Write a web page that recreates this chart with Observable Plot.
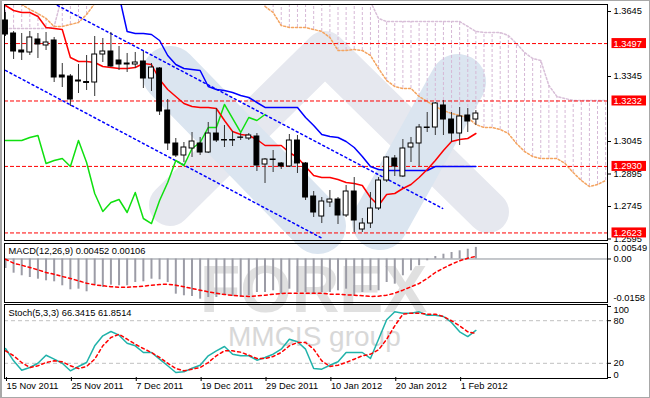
<!DOCTYPE html>
<html>
<head>
<meta charset="utf-8">
<script src="https://cdn.jsdelivr.net/npm/d3@7"></script>
<script src="https://cdn.jsdelivr.net/npm/@observablehq/plot@0.6"></script>
<style>
  html, body { margin: 0; padding: 0; background: #ffffff; }
  #chart { position: relative; width: 650px; height: 398px; overflow: hidden; background: #ffffff; }
  #chart > svg { position: absolute; left: 0; }
  .pane { position: absolute; left: 4px; width: 604px; border: 1px solid #000; box-sizing: border-box; pointer-events: none; }
  .outer { position: absolute; left: 0; top: 0; width: 650px; height: 398px; box-sizing: border-box; border: 1px solid #a8a8a8; border-left-width: 2px; pointer-events: none; }
</style>
</head>
<body>
<div id="chart"></div>
<script>
// ---------------- DATA ----------------
const dateTicks = [0, 8, 16, 24, 32, 40, 48, 56];
const dateLabels = ["15 Nov 2011", "25 Nov 2011", "7 Dec 2011", "19 Dec 2011", "29 Dec 2011", "10 Jan 2012", "20 Jan 2012", "1 Feb 2012"];

const open  = [1.36035,1.35435,1.34650,1.34558,1.35158,1.34881,1.35112,1.33496,1.33450,1.33265,1.33196,1.33173,1.34465,1.34604,1.34188,1.34050,1.34004,1.34142,1.33358,1.33819,1.31881,1.30358,1.29804,1.30127,1.30358,1.29942,1.30819,1.30519,1.30519,1.30635,1.30588,1.30681,1.29388,1.29619,1.29435,1.29296,1.30496,1.29435,1.27912,1.26988,1.27635,1.27773,1.27035,1.28142,1.26388,1.26665,1.27358,1.28650,1.29665,1.28835,1.30173,1.30358,1.31096,1.31096,1.32112,1.31465,1.30819,1.31650,1.31465];
const high  = [1.36404,1.35527,1.35435,1.35527,1.35435,1.35481,1.35250,1.34050,1.33542,1.34004,1.34419,1.35296,1.35204,1.35481,1.34835,1.34512,1.34558,1.34604,1.34050,1.33865,1.32388,1.30588,1.30404,1.30865,1.30635,1.31327,1.31973,1.31188,1.30912,1.30819,1.30819,1.30819,1.29665,1.30035,1.29481,1.30773,1.30727,1.29481,1.28142,1.27865,1.28188,1.27865,1.28419,1.28788,1.26896,1.28096,1.28788,1.29758,1.29804,1.30542,1.30635,1.31235,1.31788,1.32250,1.32342,1.31788,1.32019,1.31973,1.31881];
const low   = [1.35296,1.34235,1.34188,1.34419,1.34281,1.34650,1.33173,1.32942,1.32065,1.32665,1.32804,1.32527,1.34096,1.33865,1.33727,1.33635,1.33819,1.32896,1.32758,1.31650,1.30035,1.29712,1.29481,1.29712,1.29804,1.29896,1.30404,1.30173,1.30219,1.30496,1.30496,1.29065,1.28512,1.29019,1.29158,1.29250,1.28973,1.27727,1.26942,1.26665,1.27404,1.26619,1.26942,1.26250,1.26250,1.26435,1.27265,1.28558,1.28835,1.28788,1.29481,1.29296,1.30865,1.30727,1.30727,1.30404,1.30265,1.30865,1.31188];
const close = [1.35388,1.34604,1.34558,1.35250,1.34927,1.35019,1.33404,1.33404,1.32388,1.33219,1.33150,1.34465,1.34604,1.33912,1.34004,1.34004,1.34096,1.33358,1.33865,1.31835,1.30358,1.29804,1.30173,1.30450,1.29942,1.30819,1.30496,1.30496,1.30496,1.30621,1.30727,1.29342,1.29619,1.29596,1.29296,1.30496,1.29435,1.27865,1.27173,1.27681,1.27773,1.27035,1.28142,1.26804,1.26665,1.27358,1.28650,1.29712,1.29296,1.30127,1.30358,1.31096,1.31073,1.32204,1.31465,1.30819,1.31604,1.31373,1.31742];

const tenkan = [1.36727,1.36496,1.36404,1.36404,1.36220,1.35712,1.35666,1.35620,1.34327,1.34143,1.34143,1.34096,1.33912,1.33866,1.33820,1.33820,1.33866,1.34050,1.34004,1.33312,1.32850,1.32527,1.32204,1.32066,1.32020,1.32020,1.31973,1.31420,1.30912,1.30773,1.30727,1.30543,1.30266,1.30266,1.30266,1.29943,1.29712,1.29297,1.28881,1.28789,1.28789,1.28696,1.28558,1.28512,1.28420,1.27866,1.27496,1.28004,1.28050,1.28281,1.28466,1.28789,1.29158,1.29573,1.30035,1.30450,1.30543,1.30589,1.30819];
const kijun = [null,null,null,null,null,null,null,null,null,null,null,null,null,null,1.37189,1.35527,1.35435,1.35435,1.35389,1.35112,1.34420,1.34004,1.33820,1.33773,1.33727,1.32989,1.32850,1.32804,1.32712,1.32573,1.32481,1.32250,1.32020,1.32020,1.32020,1.32020,1.32020,1.31558,1.31189,1.30773,1.30681,1.30635,1.30450,1.30173,1.29758,1.29297,1.29158,1.29112,1.29112,1.29112,1.29112,1.29112,1.29112,1.29297,1.29297,1.29297,1.29297,1.29297,1.29297];
const chikou = [1.30496,1.30496,1.30496,1.30635,1.30727,1.29435,1.29573,1.29666,1.29297,1.30496,1.29481,1.28050,1.27219,1.27635,1.27773,1.27173,1.28096,1.26896,1.26665,1.27727,1.28558,1.29573,1.29343,1.30127,1.30404,1.31096,1.31096,1.32158,1.31512,1.30866,1.31558,1.31420,1.31696];
// Senkou spans (bars 0..74); 1.372 = above the top of the window, null = not visible
const spanA = [1.372,1.372,1.36773,1.36543,1.36358,1.36127,1.35758,1.35758,1.35850,1.35943,1.36312,1.36819,
  null,null,null,null,null,null,null,null,null,null,null,null,null,null,null,null,null,null,null,null,
  1.36681,1.36404,1.35804,1.35712,1.35712,1.35712,1.35620,1.35527,1.35250,1.34650,1.34650,1.34696,1.34650,1.34420,1.33820,1.33266,1.32989,1.32897,1.32897,1.32527,1.32296,1.32066,1.31881,1.31743,1.31650,1.31558,1.31235,1.31096,1.31096,1.31004,1.30820,1.30358,1.29989,1.29758,1.29666,1.29666,1.29666,1.29435,1.29020,1.28650,1.28373,1.28466,1.28650];
const spanB = [1.35666,1.35666,1.35666,1.35666,1.35666,1.35666,1.35758,1.372,1.372,1.372,1.372,1.372,
  null,null,null,null,null,null,null,null,null,null,null,null,null,null,null,null,null,null,null,null,
  1.372,1.372,1.372,1.372,1.372,1.372,1.372,1.372,1.372,1.372,1.372,1.372,1.372,1.36912,1.36127,1.35989,1.35989,1.35989,1.35989,1.35989,1.35989,1.35989,1.35989,1.35989,1.35989,1.35758,1.35527,1.35481,1.35481,1.35481,1.35343,1.34973,1.34558,1.34281,1.34189,1.33035,1.32527,1.32435,1.32343,1.32343,1.32343,1.32343,1.32343];

const levels = [1.3497, 1.3232, 1.2930, 1.2623];
const priceTicks = [1.3645, 1.3345, 1.3045, 1.2895, 1.2745, 1.2595];
const channelUpper = [{bar: 6.4, price: 1.3673}, {bar: 53.9, price: 1.2736}];
const channelLower = [{bar: 0, price: 1.3373}, {bar: 39.1, price: 1.2597}];

const macdMain = [-0.00371,-0.00554,-0.00655,-0.00722,-0.00788,-0.00851,-0.00890,-0.01046,-0.01202,-0.01178,-0.01280,-0.01022,-0.01112,-0.01022,-0.01046,-0.01046,-0.00917,-0.00890,-0.00788,-0.00812,-0.00917,-0.01373,-0.01436,-0.01463,-0.01568,-0.01502,-0.01502,-0.01412,-0.01463,-0.01502,-0.01436,-0.01307,-0.01307,-0.01241,-0.01373,-0.01178,-0.01307,-0.01307,-0.01373,-0.01307,-0.01307,-0.01241,-0.01178,-0.01436,-0.01307,-0.01241,-0.01241,-0.00917,-0.00983,-0.00655,-0.00460,-0.00265,-0.00070,0.00098,0.00187,0.00254,0.00320,0.00382,0.00452];
const macdSignal = [-0.00008,-0.00164,-0.00242,-0.00332,-0.00421,-0.00527,-0.00593,-0.00683,-0.00761,-0.00851,-0.00944,-0.01006,-0.01045,-0.01084,-0.01100,-0.01100,-0.01084,-0.01061,-0.01022,-0.00995,-0.00983,-0.01022,-0.01084,-0.01151,-0.01217,-0.01280,-0.01334,-0.01385,-0.01424,-0.01444,-0.01463,-0.01436,-0.01412,-0.01373,-0.01346,-0.01334,-0.01334,-0.01334,-0.01334,-0.01334,-0.01373,-0.01373,-0.01397,-0.01412,-0.01436,-0.01463,-0.01451,-0.01412,-0.01334,-0.01217,-0.01084,-0.00956,-0.00761,-0.00527,-0.00359,-0.00203,-0.00070,0.00031,0.00106];
const macdTitle = "MACD(12,26,9) 0.00452 0.00106";
const macdTop = "0.00549", macdBottom = "-0.0158";

const stochK = [40.8,23.5,10.3,14.1,20.1,31.4,25.8,20.1,9.4,15.5,21.1,44.6,58.7,64.8,59.6,48.3,44.6,35.2,35.2,25.8,16.5,7.0,8.0,13.1,17.3,30.6,37.6,43.7,32.8,30.6,30.6,24.4,28.2,32.8,39.9,53.9,50.3,39.9,12.7,11.7,17.3,22.1,35.2,35.2,35.2,26.8,53.9,81.3,92.5,90.6,90.6,92.5,87.7,87.7,85.9,77.5,64.4,57.7,66.3];
const stochD = [37.6,30.6,21.1,14.1,16.5,21.1,23.5,22.1,16.5,12.7,15.5,25.8,44.6,56.3,60.9,53.9,46.9,40.8,35.2,28.2,20.1,12.7,9.4,11.7,14.1,21.1,30.6,37.6,37.6,35.7,31.4,26.8,26.8,29.6,35.2,44.6,49.3,49.3,39.9,23.5,15.5,17.3,21.1,25.8,30.6,32.8,39.0,53.9,72.8,89.2,90.6,90.6,89.2,89.2,85.9,79.9,72.8,64.4,61.9];
const stochTitle = "Stoch(5,3,3) 66.3415 61.8514";
const stochLevels = [80, 20];

// ---------------- BUILD ----------------
const FONT = '"Liberation Sans", Arial, sans-serif';
const chart = document.getElementById("chart");
const bars = open.map((o, i) => ({i, open: o, high: high[i], low: low[i], close: close[i]}));
const cloud = spanA.map((a, i) => ({i, a, b: spanB[i]}));
const hatch = cloud.filter(d => d.a != null && d.b != null);
const series = arr => arr.map((v, i) => ({i, v}));
const macdData = macdMain.map((v, i) => ({i, v, s: macdSignal[i]}));
const stochData = stochK.map((k, i) => ({i, k, d: stochD[i]}));
const XDOM = [-0.123, 74.23];
const base = {width: 650, marginLeft: 4, marginRight: 43,
  style: {background: "transparent", fontFamily: FONT, fontSize: "9.3px", color: "#000", overflow: "hidden"}};

// watermark (decorative, behind the chart)
const wm = d3.create("svg").attr("width", 650).attr("height", 398).style("top", "0px");
const wg = wm.append("g");
wg.append("polyline").attr("points", "170,205 325,52 488,212").attr("fill", "none")
  .attr("stroke", "#e6e8ef").attr("stroke-width", 42).attr("stroke-linejoin", "round").attr("stroke-linecap", "round");
wg.append("line").attr("x1", 170).attr("y1", 74).attr("x2", 318).attr("y2", 226)
  .attr("stroke", "#dbe5f0").attr("stroke-width", 56).attr("stroke-linecap", "round");
wg.append("line").attr("x1", 380).attr("y1", 222).attr("x2", 458).attr("y2", 82)
  .attr("stroke", "#dbe5f0").attr("stroke-width", 56).attr("stroke-linecap", "round");
wg.append("text").attr("x", 200).attr("y", 312).attr("font-family", FONT).attr("font-weight", "bold")
  .attr("font-size", 66).attr("fill", "#e0e0e0").text("FOREX");
wg.append("text").attr("x", 228).attr("y", 346).attr("font-family", FONT)
  .attr("font-size", 28).attr("fill", "#d8d8d8").text("MMCIS group");
chart.appendChild(wm.node());

// main price window
const mainPlot = Plot.plot({
  ...base, height: 243, marginTop: 4, marginBottom: 2,
  x: {domain: XDOM, axis: null},
  y: {domain: [1.25835, 1.36773]},
  marks: [
    Plot.ruleX(hatch, {x: "i", y1: "a", y2: "b", stroke: "#d6b8d6", strokeDasharray: "3,2", clip: true}),
    Plot.line(cloud, {x: "i", y: "b", stroke: "#d8bfd8", strokeDasharray: "2,2", clip: true}),
    Plot.line(cloud, {x: "i", y: "a", stroke: "#f4a460", strokeDasharray: "2,2", clip: true}),
    Plot.ruleY(levels, {stroke: "#ff0000", strokeDasharray: "4,2"}),
    Plot.line(channelUpper, {x: "bar", y: "price", stroke: "#0000ff", strokeDasharray: "2,3", clip: true}),
    Plot.line(channelLower, {x: "bar", y: "price", stroke: "#0000ff", strokeDasharray: "2,3", clip: true}),
    Plot.line(series(chikou), {x: "i", y: "v", stroke: "#10e010", clip: true}),
    Plot.line(series(kijun), {x: "i", y: "v", stroke: "#0000ff", clip: true}),
    Plot.line(series(tenkan), {x: "i", y: "v", stroke: "#ff0000", clip: true}),
    Plot.ruleX(bars, {x: "i", y1: "low", y2: "high", stroke: "#333333"}),
    Plot.rect(bars.filter(d => d.close < d.open), {x1: d => d.i - 0.3, x2: d => d.i + 0.3, y1: "open", y2: "close", fill: "#000000", stroke: "#000000"}),
    Plot.rect(bars.filter(d => d.close >= d.open), {x1: d => d.i - 0.3, x2: d => d.i + 0.3, y1: "open", y2: "close", fill: "#ffffff", stroke: "#000000"}),
    Plot.axisY({anchor: "right", ticks: priceTicks, tickFormat: d3.format(".4f"), tickSize: 3, tickPadding: 3, label: null}),
    Plot.text(levels, {y: d => d, frameAnchor: "right", dx: 6, textAnchor: "start", fill: "#ffffff", text: d => d3.format(".4f")(d)})
  ]
});
mainPlot.style.top = "0px";
chart.appendChild(mainPlot);

// red boxes behind the level labels
{
  const ys = mainPlot.scale("y");
  const labels = levels.map(d => d3.format(".4f")(d));
  const txt = d3.select(mainPlot).selectAll("text").filter(function () {
    return labels.includes(this.textContent) && this.closest("g[aria-label='y-axis tick label']") == null;
  });
  const node = txt.nodes()[txt.size() - 1];
  const grp = node.parentNode;
  const boxes = d3.select(grp.parentNode).insert("g", () => grp);
  levels.forEach(v => {
    boxes.append("rect").attr("x", 611.5).attr("y", ys.apply(v) - 5).attr("width", 34.5).attr("height", 10).attr("fill", "#ff0000");
  });
}

// MACD window
const macdPlot = Plot.plot({
  ...base, height: 62, marginTop: 3, marginBottom: 3,
  x: {domain: XDOM, axis: null},
  y: {domain: [-0.0162, 0.00566]},
  marks: [
    Plot.ruleY([0], {stroke: "#8a9099"}),
    Plot.ruleX(macdData, {x: "i", y1: 0, y2: "v", stroke: "#9c9ca6", strokeWidth: 2}),
    Plot.line(macdData, {x: "i", y: "s", stroke: "#ff0000", strokeDasharray: "3,3"}),
    Plot.text([macdTitle], {frameAnchor: "top-left", dx: 4, dy: 3, lineAnchor: "top", textAnchor: "start", text: d => d}),
    Plot.axisY({anchor: "right", ticks: [0], tickFormat: () => "0.00", tickSize: 3, tickPadding: 3, label: null}),
    Plot.text([macdTop], {frameAnchor: "top-right", dx: 6, textAnchor: "start", lineAnchor: "top", text: d => d}),
    Plot.text([macdBottom], {frameAnchor: "bottom-right", dx: 6, textAnchor: "start", lineAnchor: "bottom", text: d => d})
  ]
});
macdPlot.style.top = "241px";
chart.appendChild(macdPlot);

// Stochastic window + date axis
const stochPlot = Plot.plot({
  ...base, height: 95, marginTop: 3, marginBottom: 21,
  x: {domain: XDOM},
  y: {domain: [0, 100]},
  marks: [
    Plot.ruleY(stochLevels, {stroke: "#c0c0c0", strokeDasharray: "4,3"}),
    Plot.line(stochData, {x: "i", y: "k", stroke: "#20b2aa"}),
    Plot.line(stochData, {x: "i", y: "d", stroke: "#ff0000", strokeDasharray: "3,3"}),
    Plot.text([stochTitle], {frameAnchor: "top-left", dx: 4, dy: 3, lineAnchor: "top", textAnchor: "start", text: d => d}),
    Plot.axisY({anchor: "right", ticks: [100, 80, 20, 0], tickFormat: d => (d === 80 || d === 20) ? String(d) : "", tickSize: 3, tickPadding: 3, label: null}),
    Plot.text(["100"], {frameAnchor: "top-right", dx: 6, textAnchor: "start", lineAnchor: "top", text: d => d}),
    Plot.text(["0"], {frameAnchor: "bottom-right", dx: 6, textAnchor: "start", lineAnchor: "bottom", text: d => d}),
    Plot.axisX({anchor: "bottom", ticks: dateTicks, tickFormat: d => dateLabels[dateTicks.indexOf(d)], tickSize: 4, tickPadding: 1, textAnchor: "start", dx: 1, label: null})
  ]
});
stochPlot.style.top = "303px";
chart.appendChild(stochPlot);

// window frames
[[4, 237], [243, 60], [304, 75]].forEach(([t, h]) => {
  const div = document.createElement("div");
  div.className = "pane";
  div.style.top = t + "px";
  div.style.height = h + "px";
  chart.appendChild(div);
});
const outer = document.createElement("div");
outer.className = "outer";
chart.appendChild(outer);
</script>
</body>
</html>
